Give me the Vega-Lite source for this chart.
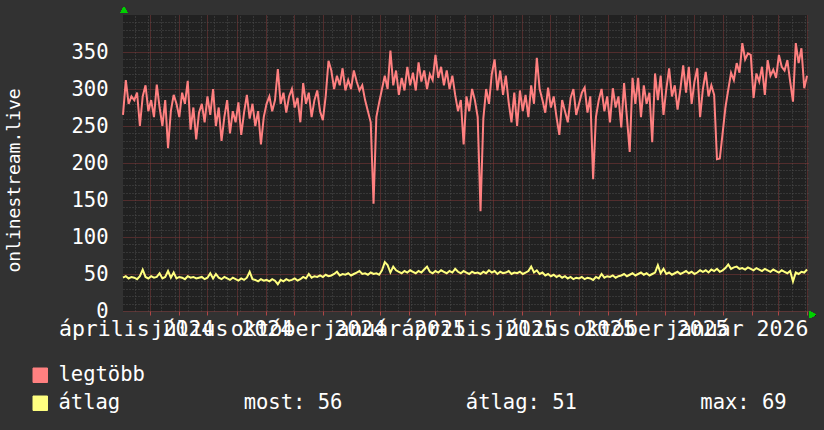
{
  "$schema": "https://vega.github.io/schema/vega-lite/v6.json",
  "width": 685,
  "height": 296,
  "autosize": {"type": "none"},
  "padding": {"left": 123, "top": 15, "right": 16, "bottom": 119},
  "background": "#323232",
  "config": {
    "view": {"fill": "#212121", "stroke": null},
    "font": "DejaVu Sans Mono",
    "axis": {"labelFont": "DejaVu Sans Mono", "titleFont": "DejaVu Sans Mono"}
  },
  "data": {"values": [
    {"d":"2024-04-02","legtöbb":265,"átlag":45},{"d":"2024-04-05","legtöbb":312,"átlag":47},{"d":"2024-04-08","legtöbb":280,"átlag":44},{"d":"2024-04-11","legtöbb":290,"átlag":46},{"d":"2024-04-14","legtöbb":285,"átlag":45},{"d":"2024-04-17","legtöbb":295,"átlag":43},{"d":"2024-04-20","legtöbb":250,"átlag":47},{"d":"2024-04-23","legtöbb":290,"átlag":56},{"d":"2024-04-26","legtöbb":305,"átlag":46},{"d":"2024-04-29","legtöbb":270,"átlag":44},
    {"d":"2024-05-02","legtöbb":285,"átlag":47},{"d":"2024-05-05","legtöbb":262,"átlag":45},{"d":"2024-05-08","legtöbb":306,"átlag":46},{"d":"2024-05-11","legtöbb":275,"átlag":51},{"d":"2024-05-14","legtöbb":250,"átlag":44},{"d":"2024-05-17","legtöbb":285,"átlag":46},{"d":"2024-05-20","legtöbb":220,"átlag":54},{"d":"2024-05-23","legtöbb":270,"átlag":45},{"d":"2024-05-26","legtöbb":292,"átlag":52},{"d":"2024-05-29","legtöbb":280,"átlag":44},
    {"d":"2024-06-01","legtöbb":262,"átlag":46},{"d":"2024-06-04","legtöbb":295,"átlag":45},{"d":"2024-06-07","legtöbb":280,"átlag":43},{"d":"2024-06-10","legtöbb":311,"átlag":47},{"d":"2024-06-13","legtöbb":245,"átlag":45},{"d":"2024-06-16","legtöbb":275,"átlag":46},{"d":"2024-06-19","legtöbb":232,"átlag":44},{"d":"2024-06-22","legtöbb":268,"átlag":45},{"d":"2024-06-25","legtöbb":280,"átlag":46},{"d":"2024-06-28","legtöbb":255,"átlag":43},
    {"d":"2024-07-01","legtöbb":290,"átlag":45},{"d":"2024-07-04","legtöbb":265,"átlag":51},{"d":"2024-07-07","legtöbb":300,"átlag":44},{"d":"2024-07-10","legtöbb":250,"átlag":50},{"d":"2024-07-13","legtöbb":275,"átlag":45},{"d":"2024-07-16","legtöbb":230,"átlag":43},{"d":"2024-07-19","legtöbb":262,"átlag":46},{"d":"2024-07-22","legtöbb":285,"átlag":44},{"d":"2024-07-25","legtöbb":240,"átlag":42},{"d":"2024-07-28","legtöbb":270,"átlag":45},{"d":"2024-07-31","legtöbb":255,"átlag":43},
    {"d":"2024-08-03","legtöbb":282,"átlag":41},{"d":"2024-08-06","legtöbb":238,"átlag":44},{"d":"2024-08-09","legtöbb":268,"átlag":42},{"d":"2024-08-12","legtöbb":292,"átlag":45},{"d":"2024-08-15","legtöbb":260,"átlag":53},{"d":"2024-08-18","legtöbb":280,"átlag":43},{"d":"2024-08-21","legtöbb":250,"átlag":42},{"d":"2024-08-24","legtöbb":270,"átlag":40},{"d":"2024-08-27","legtöbb":225,"átlag":43},{"d":"2024-08-30","legtöbb":262,"átlag":41},
    {"d":"2024-09-02","legtöbb":280,"átlag":42},{"d":"2024-09-05","legtöbb":290,"átlag":40},{"d":"2024-09-08","legtöbb":270,"átlag":43},{"d":"2024-09-11","legtöbb":285,"átlag":41},{"d":"2024-09-14","legtöbb":327,"átlag":36},{"d":"2024-09-17","legtöbb":280,"átlag":42},{"d":"2024-09-20","legtöbb":295,"átlag":40},{"d":"2024-09-23","legtöbb":268,"átlag":43},{"d":"2024-09-26","legtöbb":290,"átlag":41},{"d":"2024-09-29","legtöbb":300,"átlag":42},
    {"d":"2024-10-02","legtöbb":275,"átlag":44},{"d":"2024-10-05","legtöbb":288,"átlag":41},{"d":"2024-10-08","legtöbb":255,"átlag":43},{"d":"2024-10-11","legtöbb":308,"átlag":46},{"d":"2024-10-14","legtöbb":280,"átlag":44},{"d":"2024-10-17","legtöbb":295,"átlag":50},{"d":"2024-10-20","legtöbb":262,"átlag":45},{"d":"2024-10-23","legtöbb":285,"átlag":47},{"d":"2024-10-26","legtöbb":298,"átlag":46},{"d":"2024-10-29","legtöbb":270,"átlag":48},
    {"d":"2024-11-01","legtöbb":258,"átlag":46},{"d":"2024-11-04","legtöbb":290,"átlag":49},{"d":"2024-11-07","legtöbb":338,"átlag":47},{"d":"2024-11-10","legtöbb":325,"átlag":48},{"d":"2024-11-13","legtöbb":300,"átlag":50},{"d":"2024-11-16","legtöbb":318,"átlag":53},{"d":"2024-11-19","legtöbb":305,"átlag":48},{"d":"2024-11-22","legtöbb":328,"átlag":50},{"d":"2024-11-25","legtöbb":298,"átlag":49},{"d":"2024-11-28","legtöbb":312,"átlag":51},
    {"d":"2024-12-01","legtöbb":300,"átlag":48},{"d":"2024-12-04","legtöbb":325,"átlag":50},{"d":"2024-12-07","legtöbb":310,"átlag":52},{"d":"2024-12-10","legtöbb":298,"átlag":54},{"d":"2024-12-13","legtöbb":305,"átlag":50},{"d":"2024-12-16","legtöbb":285,"átlag":51},{"d":"2024-12-19","legtöbb":270,"átlag":49},{"d":"2024-12-22","legtöbb":255,"átlag":52},{"d":"2024-12-25","legtöbb":145,"átlag":50},{"d":"2024-12-28","legtöbb":262,"átlag":51},{"d":"2024-12-31","legtöbb":282,"átlag":49},
    {"d":"2025-01-03","legtöbb":300,"átlag":55},{"d":"2025-01-06","legtöbb":318,"átlag":66},{"d":"2025-01-09","legtöbb":300,"átlag":62},{"d":"2025-01-12","legtöbb":352,"átlag":52},{"d":"2025-01-15","legtöbb":305,"átlag":60},{"d":"2025-01-18","legtöbb":325,"átlag":55},{"d":"2025-01-21","legtöbb":292,"átlag":53},{"d":"2025-01-24","legtöbb":315,"átlag":51},{"d":"2025-01-27","legtöbb":298,"átlag":54},{"d":"2025-01-30","legtöbb":330,"átlag":52},
    {"d":"2025-02-02","legtöbb":305,"átlag":55},{"d":"2025-02-05","legtöbb":322,"átlag":53},{"d":"2025-02-08","legtöbb":298,"átlag":51},{"d":"2025-02-11","legtöbb":336,"átlag":54},{"d":"2025-02-14","legtöbb":310,"átlag":52},{"d":"2025-02-17","legtöbb":325,"átlag":56},{"d":"2025-02-20","legtöbb":300,"átlag":60},{"d":"2025-02-23","legtöbb":320,"átlag":53},{"d":"2025-02-26","legtöbb":312,"átlag":51},
    {"d":"2025-03-01","legtöbb":346,"átlag":54},{"d":"2025-03-04","legtöbb":315,"átlag":52},{"d":"2025-03-07","legtöbb":330,"átlag":55},{"d":"2025-03-10","legtöbb":305,"átlag":53},{"d":"2025-03-13","legtöbb":325,"átlag":51},{"d":"2025-03-16","legtöbb":300,"átlag":54},{"d":"2025-03-19","legtöbb":318,"átlag":52},{"d":"2025-03-22","legtöbb":292,"átlag":57},{"d":"2025-03-25","legtöbb":270,"átlag":53},{"d":"2025-03-28","legtöbb":285,"átlag":51},{"d":"2025-03-31","legtöbb":225,"átlag":54},
    {"d":"2025-04-03","legtöbb":290,"átlag":52},{"d":"2025-04-06","legtöbb":270,"átlag":50},{"d":"2025-04-09","legtöbb":300,"átlag":53},{"d":"2025-04-12","legtöbb":285,"átlag":51},{"d":"2025-04-15","legtöbb":262,"átlag":52},{"d":"2025-04-18","legtöbb":135,"átlag":50},{"d":"2025-04-21","legtöbb":260,"átlag":53},{"d":"2025-04-24","legtöbb":300,"átlag":51},{"d":"2025-04-27","legtöbb":280,"átlag":55},{"d":"2025-04-30","legtöbb":320,"átlag":52},
    {"d":"2025-05-03","legtöbb":340,"átlag":54},{"d":"2025-05-06","legtöbb":298,"átlag":50},{"d":"2025-05-09","legtöbb":325,"átlag":53},{"d":"2025-05-12","legtöbb":292,"átlag":51},{"d":"2025-05-15","legtöbb":318,"átlag":52},{"d":"2025-05-18","legtöbb":282,"átlag":54},{"d":"2025-05-21","legtöbb":255,"átlag":50},{"d":"2025-05-24","legtöbb":295,"átlag":52},{"d":"2025-05-27","legtöbb":250,"átlag":51},{"d":"2025-05-30","legtöbb":298,"átlag":53},
    {"d":"2025-06-02","legtöbb":270,"átlag":50},{"d":"2025-06-05","legtöbb":292,"átlag":52},{"d":"2025-06-08","legtöbb":262,"átlag":54},{"d":"2025-06-11","legtöbb":305,"átlag":60},{"d":"2025-06-14","legtöbb":280,"átlag":52},{"d":"2025-06-17","legtöbb":342,"átlag":55},{"d":"2025-06-20","legtöbb":300,"átlag":50},{"d":"2025-06-23","legtöbb":285,"átlag":52},{"d":"2025-06-26","legtöbb":268,"átlag":48},{"d":"2025-06-29","legtöbb":302,"átlag":50},
    {"d":"2025-07-02","legtöbb":275,"átlag":47},{"d":"2025-07-05","legtöbb":290,"átlag":49},{"d":"2025-07-08","legtöbb":262,"átlag":46},{"d":"2025-07-11","legtöbb":238,"átlag":48},{"d":"2025-07-14","legtöbb":285,"átlag":45},{"d":"2025-07-17","legtöbb":270,"átlag":47},{"d":"2025-07-20","legtöbb":255,"átlag":44},{"d":"2025-07-23","legtöbb":288,"átlag":46},{"d":"2025-07-26","legtöbb":300,"átlag":43},{"d":"2025-07-29","legtöbb":265,"átlag":45},
    {"d":"2025-08-01","legtöbb":280,"átlag":44},{"d":"2025-08-04","legtöbb":295,"átlag":46},{"d":"2025-08-07","legtöbb":302,"átlag":43},{"d":"2025-08-10","legtöbb":268,"átlag":45},{"d":"2025-08-13","legtöbb":290,"átlag":44},{"d":"2025-08-16","legtöbb":178,"átlag":42},{"d":"2025-08-19","legtöbb":262,"átlag":46},{"d":"2025-08-22","legtöbb":285,"átlag":44},{"d":"2025-08-25","legtöbb":300,"átlag":50},{"d":"2025-08-28","legtöbb":270,"átlag":45},{"d":"2025-08-31","legtöbb":290,"átlag":47},
    {"d":"2025-09-03","legtöbb":255,"átlag":46},{"d":"2025-09-06","legtöbb":301,"átlag":48},{"d":"2025-09-09","legtöbb":275,"átlag":45},{"d":"2025-09-12","legtöbb":290,"átlag":47},{"d":"2025-09-15","legtöbb":248,"átlag":48},{"d":"2025-09-18","legtöbb":308,"átlag":50},{"d":"2025-09-21","legtöbb":262,"átlag":47},{"d":"2025-09-24","legtöbb":215,"átlag":49},{"d":"2025-09-27","legtöbb":315,"átlag":51},{"d":"2025-09-30","legtöbb":280,"átlag":48},
    {"d":"2025-10-03","legtöbb":315,"átlag":50},{"d":"2025-10-06","legtöbb":262,"átlag":52},{"d":"2025-10-09","legtöbb":305,"átlag":49},{"d":"2025-10-12","legtöbb":280,"átlag":51},{"d":"2025-10-15","legtöbb":295,"átlag":48},{"d":"2025-10-18","legtöbb":228,"átlag":50},{"d":"2025-10-21","legtöbb":321,"átlag":52},{"d":"2025-10-24","legtöbb":285,"átlag":62},{"d":"2025-10-27","legtöbb":318,"átlag":51},{"d":"2025-10-30","legtöbb":265,"átlag":57},
    {"d":"2025-11-02","legtöbb":300,"átlag":50},{"d":"2025-11-05","legtöbb":328,"átlag":52},{"d":"2025-11-08","legtöbb":290,"átlag":49},{"d":"2025-11-11","legtöbb":305,"átlag":51},{"d":"2025-11-14","legtöbb":272,"átlag":53},{"d":"2025-11-17","legtöbb":300,"átlag":50},{"d":"2025-11-20","legtöbb":332,"átlag":52},{"d":"2025-11-23","legtöbb":295,"átlag":54},{"d":"2025-11-26","legtöbb":330,"átlag":51},{"d":"2025-11-29","legtöbb":280,"átlag":53},
    {"d":"2025-12-02","legtöbb":310,"átlag":50},{"d":"2025-12-05","legtöbb":328,"átlag":52},{"d":"2025-12-08","legtöbb":262,"átlag":55},{"d":"2025-12-11","legtöbb":300,"átlag":53},{"d":"2025-12-14","legtöbb":323,"átlag":55},{"d":"2025-12-17","legtöbb":290,"átlag":52},{"d":"2025-12-20","legtöbb":305,"átlag":56},{"d":"2025-12-23","legtöbb":292,"átlag":54},{"d":"2025-12-26","legtöbb":205,"átlag":57},{"d":"2025-12-29","legtöbb":206,"átlag":53},
    {"d":"2026-01-01","legtöbb":240,"átlag":55},{"d":"2026-01-04","legtöbb":275,"átlag":58},{"d":"2026-01-07","legtöbb":299,"átlag":63},{"d":"2026-01-10","legtöbb":322,"átlag":57},{"d":"2026-01-13","legtöbb":312,"átlag":59},{"d":"2026-01-16","legtöbb":335,"átlag":60},{"d":"2026-01-19","legtöbb":322,"átlag":57},{"d":"2026-01-22","legtöbb":362,"átlag":58},{"d":"2026-01-25","legtöbb":340,"átlag":56},{"d":"2026-01-28","legtöbb":348,"átlag":59},{"d":"2026-01-31","legtöbb":346,"átlag":57},
    {"d":"2026-02-03","legtöbb":288,"átlag":55},{"d":"2026-02-06","legtöbb":321,"átlag":58},{"d":"2026-02-09","legtöbb":310,"átlag":56},{"d":"2026-02-12","legtöbb":330,"átlag":54},{"d":"2026-02-15","legtöbb":292,"átlag":57},{"d":"2026-02-18","legtöbb":339,"átlag":55},{"d":"2026-02-21","legtöbb":318,"átlag":53},{"d":"2026-02-24","legtöbb":326,"átlag":56},{"d":"2026-02-27","legtöbb":315,"átlag":54},
    {"d":"2026-03-02","legtöbb":346,"átlag":52},{"d":"2026-03-05","legtöbb":330,"átlag":55},{"d":"2026-03-08","legtöbb":325,"átlag":53},{"d":"2026-03-11","legtöbb":339,"átlag":51},{"d":"2026-03-14","legtöbb":310,"átlag":54},{"d":"2026-03-17","legtöbb":283,"átlag":40},{"d":"2026-03-20","legtöbb":362,"átlag":52},{"d":"2026-03-23","legtöbb":335,"átlag":50},{"d":"2026-03-26","legtöbb":355,"átlag":53},{"d":"2026-03-29","legtöbb":301,"átlag":52},
    {"d":"2026-04-01","legtöbb":318,"átlag":56}
  ]},
  "transform": [{"fold": ["legtöbb", "átlag"], "as": ["s", "v"]}],
  "layer": [
    {
      "mark": {"type": "line", "opacity": 0},
      "encoding": {
        "x": {"field": "d", "type": "temporal",
          "scale": {"type": "utc", "domain": [{"year": 2024, "month": 4, "date": 2, "utc": true}, {"year": 2026, "month": 4, "date": 2, "utc": true}], "nice": false},
          "axis": {"orient": "top", "title": null, "labels": false, "ticks": false, "domain": false,
            "grid": true, "gridColor": "#4f4f4f", "gridDash": [1, 2], "gridWidth": 1,
            "values": [
              {"year":2024,"month":4,"date":15,"utc":true},{"year":2024,"month":4,"date":29,"utc":true},{"year":2024,"month":5,"date":13,"utc":true},{"year":2024,"month":5,"date":27,"utc":true},{"year":2024,"month":6,"date":10,"utc":true},{"year":2024,"month":6,"date":24,"utc":true},{"year":2024,"month":7,"date":8,"utc":true},{"year":2024,"month":7,"date":22,"utc":true},{"year":2024,"month":8,"date":5,"utc":true},{"year":2024,"month":8,"date":19,"utc":true},{"year":2024,"month":9,"date":2,"utc":true},{"year":2024,"month":9,"date":16,"utc":true},{"year":2024,"month":9,"date":30,"utc":true},{"year":2024,"month":10,"date":14,"utc":true},{"year":2024,"month":10,"date":28,"utc":true},{"year":2024,"month":11,"date":11,"utc":true},{"year":2024,"month":11,"date":25,"utc":true},{"year":2024,"month":12,"date":9,"utc":true},{"year":2024,"month":12,"date":23,"utc":true},
              {"year":2025,"month":1,"date":6,"utc":true},{"year":2025,"month":1,"date":20,"utc":true},{"year":2025,"month":2,"date":3,"utc":true},{"year":2025,"month":2,"date":17,"utc":true},{"year":2025,"month":3,"date":3,"utc":true},{"year":2025,"month":3,"date":17,"utc":true},{"year":2025,"month":3,"date":31,"utc":true},{"year":2025,"month":4,"date":14,"utc":true},{"year":2025,"month":4,"date":28,"utc":true},{"year":2025,"month":5,"date":12,"utc":true},{"year":2025,"month":5,"date":26,"utc":true},{"year":2025,"month":6,"date":9,"utc":true},{"year":2025,"month":6,"date":23,"utc":true},{"year":2025,"month":7,"date":7,"utc":true},{"year":2025,"month":7,"date":21,"utc":true},{"year":2025,"month":8,"date":4,"utc":true},{"year":2025,"month":8,"date":18,"utc":true},{"year":2025,"month":9,"date":15,"utc":true},{"year":2025,"month":9,"date":29,"utc":true},{"year":2025,"month":10,"date":13,"utc":true},{"year":2025,"month":10,"date":27,"utc":true},{"year":2025,"month":11,"date":10,"utc":true},{"year":2025,"month":11,"date":24,"utc":true},{"year":2025,"month":12,"date":8,"utc":true},{"year":2025,"month":12,"date":22,"utc":true},
              {"year":2026,"month":1,"date":5,"utc":true},{"year":2026,"month":1,"date":19,"utc":true},{"year":2026,"month":2,"date":2,"utc":true},{"year":2026,"month":2,"date":16,"utc":true},{"year":2026,"month":3,"date":2,"utc":true},{"year":2026,"month":3,"date":16,"utc":true},{"year":2026,"month":3,"date":30,"utc":true}
            ]}},
        "y": {"field": "v", "type": "quantitative",
          "scale": {"domain": [0, 400], "nice": false, "zero": true},
          "axis": {"orient": "right", "title": null, "labels": false, "ticks": false, "domain": false,
            "grid": true, "gridColor": "#4f4f4f", "gridDash": [1, 2], "gridWidth": 1,
            "values": [10,20,30,40,60,70,80,90,110,120,130,140,160,170,180,190,210,220,230,240,260,270,280,290,310,320,330,340,360,370,380,390]}}
      }
    },
    {
      "mark": {"type": "line", "opacity": 0},
      "encoding": {
        "x": {"field": "d", "type": "temporal",
          "axis": {"orient": "bottom", "title": null, "labels": false, "domain": false,
            "ticks": true, "tickColor": "#b04545", "tickSize": 4, "tickWidth": 1,
            "grid": true, "gridColor": "#853a3a", "gridDash": [1, 1], "gridWidth": 1,
            "tickCount": {"interval": "month", "step": 1}}},
        "y": {"field": "v", "type": "quantitative",
          "axis": {"orient": "left", "title": "onlinestream.live", "domain": false, "ticks": false,
            "grid": true, "gridColor": "#853a3a", "gridDash": [1, 1], "gridWidth": 1,
            "values": [0, 50, 100, 150, 200, 250, 300, 350],
            "labelColor": "#ffffff", "labelFontSize": 20.5, "labelPadding": 15, "labelBaseline": "middle",
            "titleColor": "#ffffff", "titleFontSize": 18, "titleFontWeight": "normal",
            "titleAngle": -90, "titleX": -109, "titleY": 165, "titleAlign": "center", "titleBaseline": "middle"}}
      }
    },
    {
      "mark": {"type": "line", "strokeWidth": 2},
      "encoding": {
        "x": {"field": "d", "type": "temporal",
          "axis": {"orient": "bottom", "title": null, "ticks": false, "grid": false, "domain": false,
            "labelColor": "#ffffff", "labelFontSize": 21.5, "labelPadding": 7, "labelBaseline": "top",
            "labelOverlap": false, "labelFlush": false, "labelBound": false, "labelLimit": 0,
            "values": [
              {"year":2024,"month":4,"date":16,"utc":true},{"year":2024,"month":7,"date":16,"utc":true},{"year":2024,"month":10,"date":16,"utc":true},{"year":2025,"month":1,"date":16,"utc":true},
              {"year":2025,"month":4,"date":16,"utc":true},{"year":2025,"month":7,"date":16,"utc":true},{"year":2025,"month":10,"date":16,"utc":true},{"year":2026,"month":1,"date":16,"utc":true}
            ],
            "labelExpr": "['január','február','március','április','május','június','július','augusztus','szeptember','október','november','december'][utcmonth(datum.value)] + ' ' + utcyear(datum.value)"}},
        "y": {"field": "v", "type": "quantitative", "axis": null},
        "color": {"field": "s", "type": "nominal",
          "scale": {"domain": ["legtöbb", "átlag"], "range": ["#ff8080", "#ffff80"]},
          "legend": {"orient": "none", "legendX": -93, "legendY": 350, "title": null, "direction": "vertical",
            "symbolType": "square", "symbolSize": 210, "symbolStrokeWidth": 1,
            "labelFont": "DejaVu Sans Mono", "labelFontSize": 20.5, "labelColor": "#ffffff", "labelLimit": 0,
            "labelOffset": 8, "rowPadding": 7,
            "labelExpr": "datum.label == 'átlag' ? 'átlag\u00a0\u00a0\u00a0\u00a0\u00a0\u00a0\u00a0\u00a0\u00a0\u00a0most: 56\u00a0\u00a0\u00a0\u00a0\u00a0\u00a0\u00a0\u00a0\u00a0\u00a0átlag: 51\u00a0\u00a0\u00a0\u00a0\u00a0\u00a0\u00a0\u00a0\u00a0\u00a0max: 69' : datum.label",
            "encode": {"symbols": {"update": {"fill": {"scale": "color", "field": "value"}, "stroke": {"value": "#000000"}, "strokeWidth": {"value": 1}, "opacity": {"value": 1}, "fillOpacity": {"value": 1}}}}}}
      }
    },
    {
      "mark": {"type": "point", "shape": "triangle-up", "filled": true, "color": "#00d000", "size": 45, "opacity": 1},
      "encoding": {
        "x": {"datum": {"year": 2024, "month": 4, "date": 3, "utc": true}, "type": "temporal", "axis": null},
        "y": {"datum": 407, "type": "quantitative", "axis": null}
      }
    },
    {
      "mark": {"type": "point", "shape": "triangle-right", "filled": true, "color": "#00d000", "size": 45, "opacity": 1},
      "encoding": {
        "x": {"datum": {"year": 2026, "month": 4, "date": 7, "utc": true}, "type": "temporal", "axis": null},
        "y": {"datum": -5, "type": "quantitative", "axis": null}
      }
    }
  ],
  "resolve": {"axis": {"x": "independent", "y": "independent"}}
}
